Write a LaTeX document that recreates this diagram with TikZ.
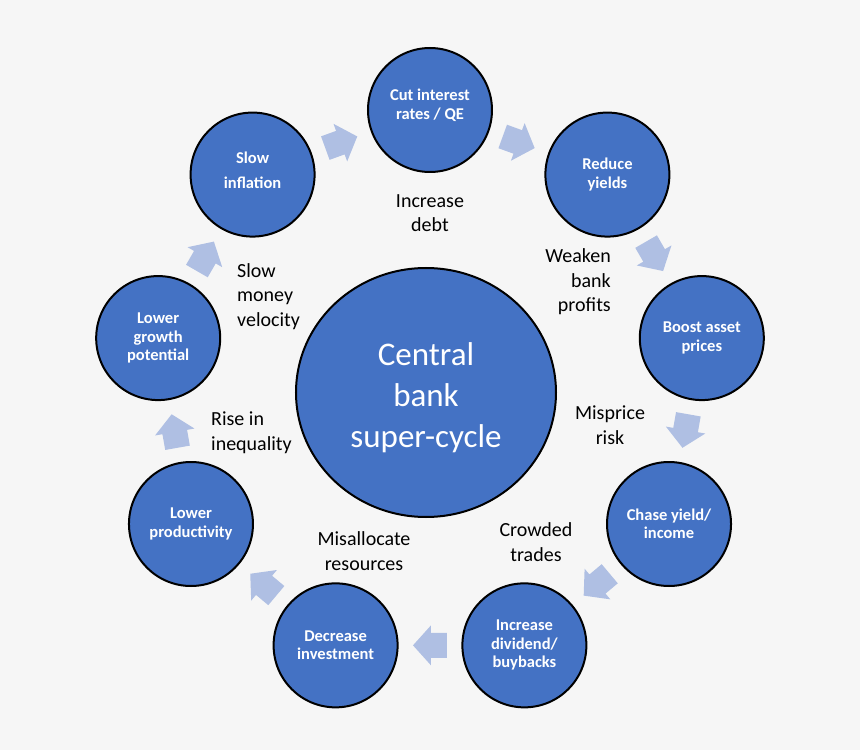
\documentclass[tikz,border=0pt]{standalone}
\usepackage{fontspec}
\setmainfont{Carlito}
\usepackage{xcolor}
\usepackage{tikz}
\usetikzlibrary{calc, shapes.geometric, positioning}
\definecolor{ringblue}{HTML}{4472C4}
\definecolor{arrowblue}{HTML}{AFBFE3}
\definecolor{paper}{HTML}{F6F6F6}

\begin{document}
\begin{tikzpicture}[x=1pt, y=1pt,
    stage/.style={circle, draw=black, line width=2pt, fill=ringblue,
        minimum size=124pt, inner sep=0pt, align=center, text=white,
        font=\bfseries\fontsize{16.5}{18.5}\selectfont},
    core/.style={ellipse, draw=black, line width=2pt, fill=ringblue,
        minimum width=260pt, minimum height=249pt, inner sep=0pt,
        align=center, text=white, font=\fontsize{33}{41}\selectfont},
    note/.style={inner sep=0pt, font=\fontsize{20}{24.5}\selectfont},
    flow/.style={fill=arrowblue}]
    % Nền
    \fill[paper] (-430,-364) rectangle (430,386);
    \useasboundingbox (-430,-364) rectangle (430,386);

    % Vòng tròn trung tâm
    \node[core] (core) at (-4,-6.5) {\rule{0pt}{33pt}Central\\bank\\super-cycle};

    % Các bước của chu kỳ
    \node[stage] (cut)       at (90:276)   {Cut interest\\rates / QE\rule[-12pt]{0pt}{1pt}};
    \node[stage] (reduce)    at (50:276)   {Reduce\\yields};
    \node[stage] (boost)     at (10:276)   {Boost asset\\prices};
    \node[stage] (chase)     at (-30:276)  {Chase yield/\\income};
    \node[stage] (dividend)  at (-70:276)  {Increase\\dividend/\\buybacks};
    \node[stage] (invest)    at (-110:276) {Decrease\\investment};
    \node[stage] (prod)      at (-150:276) {Lower\\productivity};
    \node[stage] (growth)    at (170:276)  {Lower\\growth\\potential};
    \node[stage] (inflation) at (130:276)  {Slow\\[6.5pt]inflation\rule[-8pt]{0pt}{1pt}};

    % Mũi tên giữa các bước
    \foreach \p/\q/\a in {inflation/cut/110, cut/reduce/70, reduce/boost/30,
        boost/chase/-10, chase/dividend/-50, dividend/invest/-90,
        invest/prod/-130, prod/growth/-170, growth/inflation/150}{
        \begin{scope}[shift={($(\p)!0.5!(\q)$)}, rotate=\a-90]
            \fill[flow] (-17,-12.5) -- (-1,-12.5) -- (-1,-20) -- (17,0)
                -- (-1,20) -- (-1,12.5) -- (-17,12.5) -- cycle;
        \end{scope}
    }

    % Nhãn
    \node[note, align=center] (debt) at (0,173) {Increase\\debt};
    \node[note, align=right, anchor=east] (profits) at (181,104) {Weaken\\bank\\profits};
    \node[note, align=center] (risk) at (180,-39) {Misprice\\risk};
    \node[note, align=center] (crowd) at (106,-156) {Crowded\\trades};
    \node[note, align=center] (misalloc) at (-66,-165) {Misallocate\\resources};
    \node[note, align=left, anchor=west] (inequal) at (-219,-46.5) {Rise in\\inequality};
    \node[note, align=left, anchor=west] (velocity) at (-193,89.5) {Slow\\money\\velocity};
\end{tikzpicture}
\end{document}
